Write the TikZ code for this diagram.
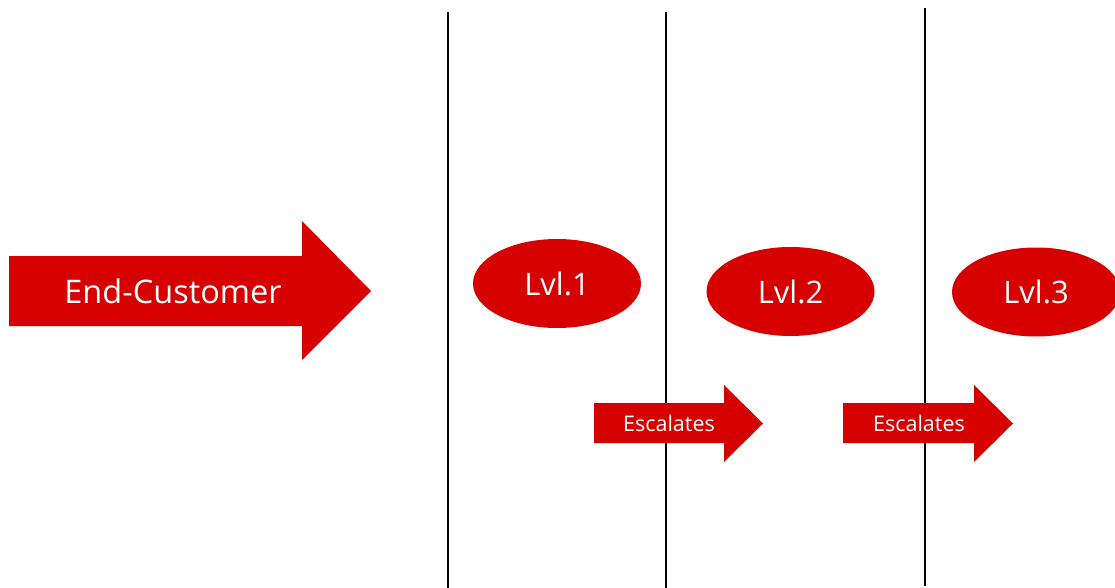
\documentclass[tikz,border=0pt]{standalone}
\usepackage{fontspec}
\setmainfont{Open Sans}
\usetikzlibrary{shapes.geometric}
\definecolor{abbred}{RGB}{214,0,0}
\tikzset{
  level/.style={ellipse, fill=abbred, text=white, inner sep=0pt,
    minimum width=168pt, minimum height=89pt, font=\fontsize{31}{34}\selectfont},
  arrowbody/.style={fill=abbred, draw=none},
  bigtext/.style={text=white, inner sep=0pt, font=\fontsize{32.5}{36}\selectfont},
  smalltext/.style={text=white, inner sep=0pt, font=\fontsize{21.5}{24}\selectfont},
  divider/.style={black, line width=1.6pt}
}
\begin{document}
\begin{tikzpicture}[x=1pt, y=-1pt]
  \useasboundingbox (0,0) rectangle (1115,588);
  % lane dividers
  \draw[divider] (448,12) -- (448,588);
  \draw[divider] (666,12) -- (666,588);
  \draw[divider] (925,8) -- (925,586);
  % end-customer arrow
  \fill[arrowbody] (9,256) -- (302,256) -- (302,221) -- (371,291)
    -- (302,360) -- (302,326) -- (9,326) -- cycle;
  \node[bigtext] (cust) at (173,291) {End-Customer};
  % support levels
  \node[level] (l1) at (557,283.5) {Lvl.1};
  \node[level] (l2) at (790.5,291.5) {Lvl.2};
  \node[level] (l3) at (1036,292) {Lvl.3};
  % escalation arrows
  \fill[arrowbody] (594,403) -- (724,403) -- (724,385) -- (763,423.5)
    -- (724,462) -- (724,443) -- (594,443) -- cycle;
  \node[smalltext] (esc1) at (669,423) {Escalates};
  \fill[arrowbody] (843,403) -- (974,403) -- (974,385) -- (1013,423.5)
    -- (974,462) -- (974,443) -- (843,443) -- cycle;
  \node[smalltext] (esc2) at (919,423) {Escalates};
\end{tikzpicture}
\end{document}
